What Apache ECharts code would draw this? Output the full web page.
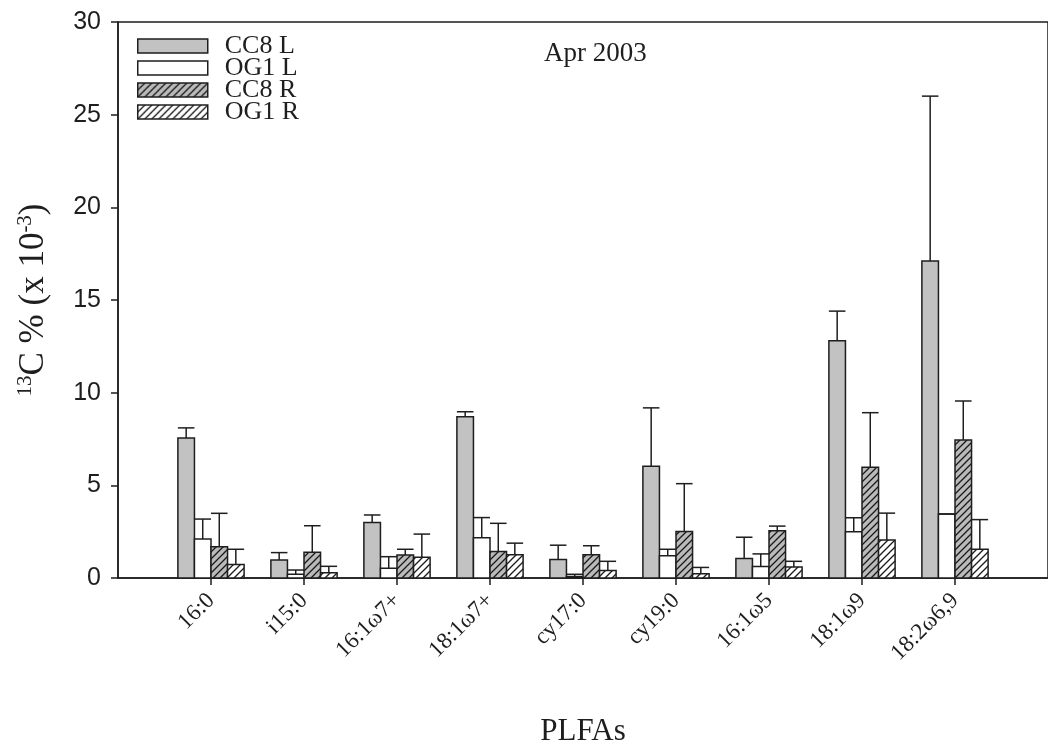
<!DOCTYPE html>
<html><head><meta charset="utf-8">
<script src="https://cdn.jsdelivr.net/npm/echarts@6/dist/echarts.min.js"></script>
<style>html,body{margin:0;padding:0;background:#fff}#c{width:1048px;height:752px}</style>
</head><body><div id="c"></div>
<script>
// ---- data ----
const categories = ['16:0','i15:0','16:1ω7+','18:1ω7+','cy17:0','cy19:0','16:1ω5','18:1ω9','18:2ω6,9'];
const seriesNames = ['CC8 L','OG1 L','CC8 R','OG1 R'];
const cc8L    = [7.55, 0.97, 3.0, 8.7, 1.0, 6.03, 1.05, 12.8, 17.1];
const cc8LErr = [0.55, 0.40, 0.40, 0.27, 0.77, 3.15, 1.15, 1.6, 8.9];
const og1L    = [2.1, 0.2, 0.52, 2.17, 0.08, 1.2, 0.62, 2.5, 3.45];
const og1LErr = [1.08, 0.23, 0.63, 1.09, 0.12, 0.35, 0.68, 0.75, 0];
const cc8R    = [1.69, 1.39, 1.24, 1.43, 1.25, 2.51, 2.55, 5.97, 7.45];
const cc8RErr = [1.8, 1.43, 0.31, 1.52, 0.49, 2.58, 0.25, 2.95, 2.1];
const og1R    = [0.73, 0.28, 1.12, 1.25, 0.4, 0.23, 0.6, 2.05, 1.55];
const og1RErr = [0.82, 0.35, 1.25, 0.63, 0.5, 0.34, 0.3, 1.45, 1.6];
const yTicks = [0, 5, 10, 15, 20, 25, 30];

// ---- styles ----
const INK = '#1e1e1e';
function hatch(bg) {
  const s = 7;
  const c = document.createElement('canvas');
  c.width = s; c.height = s;
  const g = c.getContext('2d');
  g.fillStyle = bg; g.fillRect(0, 0, s, s);
  g.strokeStyle = '#1a1a1a'; g.lineWidth = 1.3;
  g.beginPath();
  g.moveTo(-1, s + 1); g.lineTo(s + 1, -1);
  g.moveTo(-1, 1); g.lineTo(1, -1);
  g.moveTo(s - 1, s + 1); g.lineTo(s + 1, s - 1);
  g.stroke();
  return { image: c, repeat: 'repeat' };
}
const fills = ['#c2c2c2', '#ffffff', hatch('#bababa'), hatch('#ffffff')];
const values = [cc8L, og1L, cc8R, og1R];
const errs = [cc8LErr, og1LErr, cc8RErr, og1RErr];
const BAR_FRAC = 0.178;

function makeRender(idx) {
  return function (params, api) {
    const x = api.value(0), v = api.value(1), e = api.value(2);
    const unit = api.size([1, 0])[0];
    const bw = unit * BAR_FRAC;
    const base = api.coord([x, 0]);
    const cx = base[0] + (idx - 1.5) * bw;
    const y0 = base[1];
    const yv = api.coord([x, v])[1];
    const ye = api.coord([x, v + e])[1];
    const children = [{
      type: 'rect',
      shape: { x: cx - bw / 2, y: yv, width: bw, height: y0 - yv },
      style: { fill: fills[idx], stroke: INK, lineWidth: 1.5 }
    }];
    if (e > 0) {
      children.push({ type: 'line', shape: { x1: cx, y1: yv, x2: cx, y2: ye }, style: { stroke: INK, lineWidth: 1.5 } });
    }
    children.push({ type: 'line', shape: { x1: cx - bw / 2, y1: ye, x2: cx + bw / 2, y2: ye }, style: { stroke: INK, lineWidth: 1.5 } });
    return { type: 'group', children: children };
  };
}

const series = seriesNames.map(function (name, idx) {
  return {
    type: 'custom',
    name: name,
    renderItem: makeRender(idx),
    itemStyle: { color: fills[idx], borderColor: INK, borderWidth: 1.5 },
    encode: { x: 0, y: 1 },
    data: categories.map(function (c, i) { return [i + 1, values[idx][i], errs[idx][i]]; }),
    z: 2
  };
});

const chart = echarts.init(document.getElementById('c'), null, { renderer: 'canvas' });
chart.setOption({
  animation: false,
  backgroundColor: '#fff',
  title: {
    text: 'Apr 2003', left: 539, top: 35,
    textStyle: { fontFamily: 'Liberation Serif', fontSize: 27, fontWeight: 'normal', color: INK }
  },
  legend: {
    orient: 'vertical', left: 132, top: 28,
    itemWidth: 70, itemHeight: 14, itemGap: -4,
    icon: 'rect',
    data: seriesNames.map(function (n, i) {
      return { name: n, itemStyle: { color: fills[i], borderColor: INK, borderWidth: 1.5 } };
    }),
    textStyle: { fontFamily: 'Liberation Serif', fontSize: 26, lineHeight: 22, color: INK, padding: [0, 0, 0, 12] }
  },
  grid: {
    left: 118, right: -8, top: 22, bottom: 174,
    show: true, borderColor: INK, borderWidth: 1.5, backgroundColor: 'transparent'
  },
  xAxis: {
    type: 'value', min: 0, max: 10, interval: 1,
    splitLine: { show: false },
    axisLine: { lineStyle: { color: INK, width: 1.5 } },
    axisTick: { length: 7, lineStyle: { color: INK, width: 1.5 }, customValues: [1,2,3,4,5,6,7,8,9] },
    axisLabel: {
      customValues: [1,2,3,4,5,6,7,8,9],
      rotate: 45, margin: 19,
      fontFamily: 'Liberation Serif', fontSize: 23, color: INK,
      formatter: function (v) { return categories[Math.round(v) - 1] || ''; }
    },
    name: 'PLFAs', nameLocation: 'middle', nameGap: 138,
    nameTextStyle: { fontFamily: 'Liberation Serif', fontSize: 31, color: INK }
  },
  yAxis: {
    type: 'value', min: 0, max: 30, interval: 5,
    splitLine: { show: false },
    axisLine: { show: true, lineStyle: { color: INK, width: 1.5 } },
    axisTick: { show: true, length: 7, lineStyle: { color: INK, width: 1.5 } },
    axisLabel: {
      margin: 17, fontFamily: 'Liberation Sans', fontSize: 25, color: INK,
      formatter: function (v) { return yTicks.indexOf(v) >= 0 ? String(v) : ''; }
    },
    name: '{sup|13}{n|C % (x 10}{sup|-3}{n|)}',
    nameLocation: 'middle', nameGap: 66, nameRotate: 90,
    nameTextStyle: {
      rich: {
        n: { fontFamily: 'Liberation Serif', fontSize: 35, color: INK },
        sup: { fontFamily: 'Liberation Serif', fontSize: 21, color: INK, verticalAlign: 'top', padding: [0, 0, 16, 0] }
      }
    }
  },
  series: series
});
</script></body></html>
